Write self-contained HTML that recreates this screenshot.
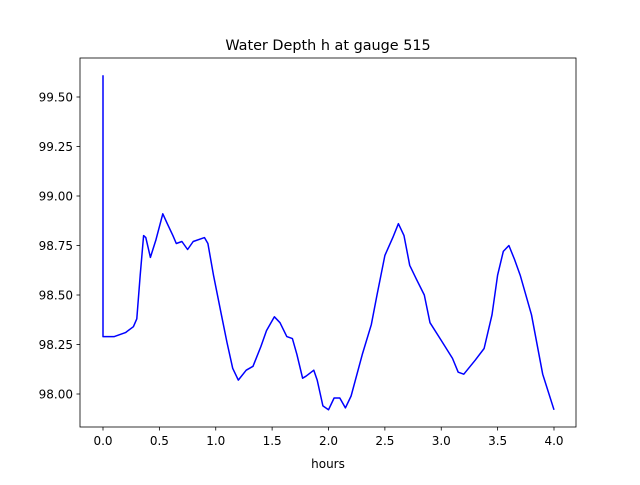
<!DOCTYPE html>
<html><head><meta charset="utf-8"><style>
body{margin:0;background:#fff;}
svg text{font-family:"DejaVu Sans","Liberation Sans",sans-serif;}
</style></head><body>
<svg id="chart" width="640" height="480" xmlns="http://www.w3.org/2000/svg">
<rect width="640" height="480" fill="#fff"/>
<text x="328" y="50" text-anchor="middle" font-size="14.4">Water Depth h at gauge 515</text>
<g id="ticks"></g>
<path id="line" fill="none" stroke="#0000ff" stroke-width="1.5" stroke-linejoin="round"/>
<rect x="80" y="58" width="496" height="369" fill="none" stroke="#000" stroke-width="0.8"/>
<text x="328" y="468" text-anchor="middle" font-size="12">hours</text>
</svg>
<script>
const hours=[0,0,0.1,0.2,0.27,0.3,0.33,0.36,0.38,0.42,0.47,0.53,0.57,0.62,0.65,0.7,0.75,0.8,0.9,0.93,0.98,1.05,1.1,1.15,1.2,1.27,1.33,1.4,1.45,1.52,1.57,1.63,1.68,1.72,1.77,1.8,1.87,1.9,1.95,2.0,2.05,2.1,2.15,2.2,2.3,2.38,2.43,2.5,2.57,2.62,2.67,2.72,2.78,2.85,2.9,3.0,3.1,3.15,3.2,3.3,3.38,3.45,3.5,3.55,3.6,3.65,3.7,3.8,3.9,4.0];
const depth=[99.61,98.29,98.29,98.31,98.34,98.38,98.6,98.8,98.79,98.69,98.78,98.91,98.86,98.8,98.76,98.77,98.73,98.77,98.79,98.76,98.6,98.4,98.26,98.13,98.07,98.12,98.14,98.24,98.32,98.39,98.36,98.29,98.28,98.2,98.08,98.09,98.12,98.07,97.94,97.92,97.98,97.98,97.93,97.99,98.2,98.35,98.5,98.7,98.79,98.86,98.8,98.65,98.58,98.5,98.36,98.27,98.18,98.11,98.1,98.17,98.23,98.4,98.6,98.72,98.75,98.68,98.6,98.4,98.1,97.92];
const xTicks=[0,0.5,1,1.5,2,2.5,3,3.5,4];
const yTicks=[98.0,98.25,98.5,98.75,99.0,99.25,99.5];
const X=v=>103+v*112.75, Y=v=>394-(v-98)*198;
const ns="http://www.w3.org/2000/svg", g=document.getElementById('ticks');
function mk(t,a){const e=document.createElementNS(ns,t);for(const k in a)e.setAttribute(k,a[k]);g.appendChild(e);return e;}
xTicks.forEach(v=>{const l=mk('line',{x1:X(v),x2:X(v),y1:427,y2:430.5,stroke:'#000','stroke-width':0.8});


const t=mk('text',{x:X(v),y:445,'text-anchor':'middle','font-size':12});t.textContent=v.toFixed(1);

});
yTicks.forEach(v=>{const l=mk('line',{x1:76.5,x2:80,y1:Y(v),y2:Y(v),stroke:'#000','stroke-width':0.8});


const t=mk('text',{x:73,y:Y(v)+4.5,'text-anchor':'end','font-size':12});t.textContent=v.toFixed(2);

});
document.getElementById('line').setAttribute('d',hours.map((h,i)=>(i?'L':'M')+X(h).toFixed(1)+','+Y(depth[i]).toFixed(1)).join(''));
</script>
</body></html>
